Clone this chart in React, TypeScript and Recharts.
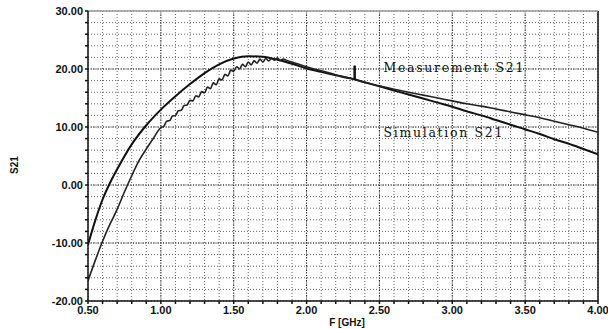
import { LineChart, Line, XAxis, YAxis, CartesianGrid, ReferenceLine, ReferenceDot } from "recharts";

// Fréquence (GHz) et S21 (dB)
const simFreq = [0.5, 0.55, 0.6, 0.65, 0.7, 0.8, 0.9, 1.0, 1.1, 1.2, 1.3, 1.4, 1.5, 1.6, 1.7, 1.8, 1.9, 2.0, 2.1, 2.2, 2.3, 2.4, 2.5, 2.6, 2.7, 2.8, 2.9, 3.0, 3.1, 3.2, 3.3, 3.4, 3.5, 3.6, 3.7, 3.8, 3.9, 4.0];
const simS21 = [-10.3, -6.1, -2.5, 0.3, 2.7, 7.0, 10.3, 13.0, 15.3, 17.4, 19.3, 20.8, 21.8, 22.2, 22.1, 21.6, 20.9, 20.1, 19.5, 18.9, 18.4, 17.7, 17.0, 16.3, 15.6, 14.9, 14.2, 13.5, 12.7, 12.0, 11.2, 10.4, 9.6, 8.8, 7.9, 7.1, 6.2, 5.3];

const measFreq = [0.5, 0.55, 0.6, 0.65, 0.7, 0.75, 0.8, 0.85, 0.9, 0.95,
  1.0, 1.02, 1.04, 1.06, 1.08, 1.1, 1.12, 1.14, 1.16, 1.18, 1.2, 1.22, 1.24, 1.26, 1.28, 1.3, 1.32, 1.34, 1.36, 1.38,
  1.4, 1.42, 1.44, 1.46, 1.48, 1.5, 1.52, 1.54, 1.56, 1.58, 1.6, 1.62, 1.64, 1.66, 1.68, 1.7, 1.72, 1.74, 1.76, 1.78,
  1.8, 1.82, 1.84, 1.86, 1.9, 2.0, 2.1, 2.2, 2.3, 2.4, 2.5, 2.6, 2.7, 2.8, 2.9, 3.0, 3.1, 3.2, 3.3, 3.4, 3.5, 3.6, 3.7, 3.8, 3.9, 4.0];
const measS21 = [-16.5, -13.0, -9.7, -6.8, -4.2, -1.2, 1.6, 4.2, 6.2, 8.1,
  9.9, 10.1, 11.0, 11.1, 11.9, 12.0, 12.8, 12.9, 13.7, 13.8, 14.6, 14.5, 15.4, 15.2, 16.1, 15.9, 16.9, 16.6, 17.6, 17.3,
  18.3, 18.1, 19.1, 18.8, 19.8, 19.6, 20.4, 20.0, 20.8, 20.4, 21.2, 20.7, 21.4, 21.0, 21.7, 21.2, 21.8, 21.4, 21.8, 21.5,
  21.9, 21.5, 21.7, 21.5, 21.2, 20.4, 19.7, 19.0, 18.4, 17.7, 17.1, 16.5, 16.0, 15.5, 15.0, 14.5, 14.0, 13.6, 13.1, 12.6, 12.1, 11.6, 11.0, 10.4, 9.8, 9.1];

const xTicks = [0.5, 0.6, 0.7, 0.8, 0.9, 1.0, 1.1, 1.2, 1.3, 1.4, 1.5, 1.6, 1.7, 1.8, 1.9, 2.0, 2.1, 2.2, 2.3, 2.4, 2.5, 2.6, 2.7, 2.8, 2.9, 3.0, 3.1, 3.2, 3.3, 3.4, 3.5, 3.6, 3.7, 3.8, 3.9, 4.0];
const yTicks = [-20, -18, -16, -14, -12, -10, -8, -6, -4, -2, 0, 2, 4, 6, 8, 10, 12, 14, 16, 18, 20, 22, 24, 26, 28, 30];
const xMajor = [1.0, 1.5, 2.0, 2.5, 3.0, 3.5];
const yMajor = [-10, 0, 10, 20];

const simData = simFreq.map((f, i) => ({ f, s21: simS21[i] }));
const measData = measFreq.map((f, i) => ({ f, s21: measS21[i] }));

const tickFont = { fontFamily: "Liberation Sans, Arial", fontSize: 11, fontWeight: 700, fill: "#111" };
const noteFont = { fontFamily: "DejaVu Serif", fontSize: 12.5, fill: "#111", letterSpacing: 1.7 };

const xFmt = (v: number) => (Math.abs(v * 2 - Math.round(v * 2)) < 1e-6 ? v.toFixed(2) : "");
const yFmt = (v: number) => (v % 10 === 0 ? v.toFixed(2) : "");

export default function App() {
  return (
    <div style={{ position: "absolute", left: 0, top: 0, background: "#fff" }}>
      <LineChart width={608} height={329} margin={{ top: 11, right: 10, left: 0, bottom: 0 }}>
        <CartesianGrid stroke="#666" strokeDasharray="1 2" />
        {xMajor.map((x) => (
          <ReferenceLine key={`vx-${x}`} x={x} stroke="#222" strokeDasharray="1 1.5" />
        ))}
        {yMajor.map((y) => (
          <ReferenceLine key={`hy-${y}`} y={y} stroke="#222" strokeDasharray="1 1.5" />
        ))}
        <ReferenceLine x={4} stroke="#111" strokeWidth={1.5} />
        <ReferenceLine y={30} stroke="#999" strokeWidth={1.5} />
        <XAxis
          type="number"
          dataKey="f"
          domain={[0.5, 4]}
          ticks={xTicks}
          interval={0}
          tickFormatter={xFmt}
          tick={tickFont}
          tickSize={3}
          height={28}
          stroke="#111"
          strokeWidth={1.5}
          allowDataOverflow
          label={{ value: "F [GHz]", position: "insideBottom", offset: 3, dx: 4, style: { ...tickFont, fontSize: 10 } }}
        />
        <YAxis
          type="number"
          domain={[-20, 30]}
          ticks={yTicks}
          interval={0}
          tickFormatter={yFmt}
          tick={tickFont}
          tickSize={3}
          width={88}
          stroke="#111"
          strokeWidth={1.5}
          allowDataOverflow
          label={{ value: "S21", angle: -90, position: "insideLeft", offset: 14, dy: 18, style: { ...tickFont, fontSize: 10 } }}
        />
        <Line data={simData} dataKey="s21" type="monotone" stroke="#111" strokeWidth={2} dot={false} isAnimationActive={false} />
        <Line data={measData} dataKey="s21" type="monotone" stroke="#222" strokeWidth={1.6} dot={false} isAnimationActive={false} />
        <ReferenceLine segment={[{ x: 2.33, y: 20.6 }, { x: 2.33, y: 18.1 }]} stroke="#111" strokeWidth={2.5} />
        <ReferenceDot x={2.5} y={20.3} r={0} stroke="none" fill="none"
          label={{ value: "Measurement S21", position: "right", offset: 4, style: noteFont }} />
        <ReferenceDot x={2.5} y={9.0} r={0} stroke="none" fill="none"
          label={{ value: "Simulation S21", position: "right", offset: 4, style: noteFont }} />
      </LineChart>
    </div>
  );
}
